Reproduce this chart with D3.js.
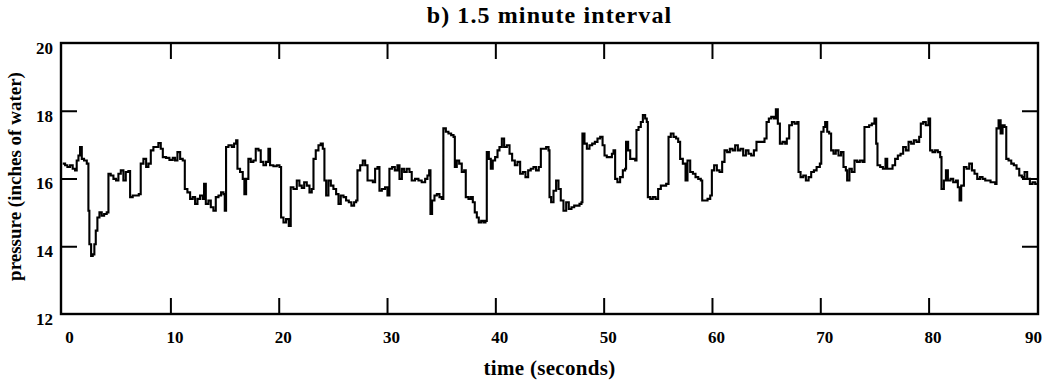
<!DOCTYPE html>
<html>
<head>
<meta charset="utf-8">
<script src="https://cdn.jsdelivr.net/npm/d3@7"></script>
<style>
  html, body { margin: 0; padding: 0; background: #fff; }
  svg { display: block; }
  .tick text { font-family: "Liberation Serif", "Times New Roman", serif; font-weight: bold; font-size: 17px; fill: #000; }
</style>
</head>
<body>
<svg id="chart" width="1048" height="384"></svg>
<script>
const title = "b) 1.5 minute interval";
const xLabel = "time (seconds)";
const yLabel = "pressure (inches of water)";
const xTicks = [0, 10, 20, 30, 40, 50, 60, 70, 80, 90];
const yTicks = [12, 14, 16, 18, 20];

const time = [
 0.06,0.28,0.49,0.74,0.98,1.2,1.35,1.51,1.66,1.82,2.03,2.28,2.43,2.52,2.68,2.83,2.98,3.11,3.26,3.45,3.66,3.88,4.12,
 4.28,4.49,4.74,4.98,5.2,5.42,5.66,5.88,6.12,6.28,6.52,6.83,7.08,7.26,7.51,7.76,7.97,8.19,8.43,8.68,8.89,9.11,9.3,
 9.6,9.91,10.22,10.43,10.65,10.9,11.14,11.33,11.57,11.82,12.06,12.28,12.5,12.74,12.99,13.11,13.27,13.51,13.73,13.97,
 14.19,14.44,14.68,14.9,15.02,15.14,15.36,15.67,15.88,16.07,16.19,16.43,16.68,16.83,16.99,17.2,17.42,17.66,17.88,
 18.13,18.34,18.59,18.83,19.05,19.2,19.51,19.82,20.07,20.22,20.44,20.68,20.93,21.11,21.36,21.67,21.91,
 22.13,22.35,22.59,22.84,23.05,23.21,23.42,23.67,23.88,24.07,24.22,24.38,24.59,24.81,25.05,25.3,25.52,25.73,25.98,
 26.22,26.47,26.71,26.96,27.15,27.27,27.52,27.76,27.98,28.2,28.44,28.69,28.9,29.12,29.3,29.52,29.82,30.04,30.22,
 30.47,30.72,30.96,31.15,31.37,31.58,31.82,32.07,32.28,32.59,32.9,33.2,33.52,33.73,33.89,34.01,34.16,34.38,34.6,
 34.84,35.05,35.2,35.43,35.67,35.92,36.14,36.26,36.44,36.66,36.9,37.12,37.27,37.52,37.73,37.92,38.1,38.29,38.47,
 38.69,38.91,39.09,39.21,39.4,39.58,39.76,39.98,40.2,40.38,40.6,40.81,41.06,41.31,41.55,41.8,42.04,42.29,42.54,
 42.78,43.03,43.27,43.52,43.76,44.01,44.2,44.45,44.69,44.91,
 45.0,45.15,45.37,45.61,45.83,46.04,46.29,46.54,46.78,47.03,47.28,47.52,47.77,47.95,48.04,48.23,48.45,48.69,48.94,
 49.19,49.43,49.68,49.9,50.08,50.29,50.54,50.76,50.91,51.06,51.27,51.52,51.77,51.98,52.07,52.26,52.45,52.69,52.91,
 53.03,53.22,53.43,53.62,53.83,53.98,54.08,54.3,54.54,54.79,55.03,55.28,55.53,55.77,55.99,56.2,56.45,56.69,56.88,
 57.06,57.31,57.56,57.74,57.99,58.24,58.48,58.73,58.97,59.1,59.34,59.59,59.84,59.99,60.2,60.45,60.7,60.94,61.16,
 61.4,61.65,61.9,62.14,62.39,62.63,62.88,63.13,63.37,63.62,63.87,64.11,64.36,64.61,64.85,65.04,65.25,65.47,65.71,
 65.9,66.08,66.27,66.51,66.76,
 66.91,67.13,67.38,67.62,67.87,67.99,68.18,68.43,68.67,68.92,69.16,69.41,69.66,69.96,70.09,70.3,70.45,70.64,70.82,
 71.0,71.22,71.43,71.68,71.92,72.14,72.36,72.48,72.69,72.91,73.16,73.4,73.65,73.9,74.08,74.3,74.51,74.76,75.0,
 75.16,75.28,75.53,75.78,76.02,76.18,76.42,76.67,76.91,77.16,77.41,77.65,77.9,78.15,78.39,78.64,78.88,79.13,79.28,
 79.5,79.74,79.99,80.14,80.36,80.6,80.85,81.07,81.19,81.41,81.6,81.78,82.03,82.27,82.52,82.7,82.86,83.01,83.26,
 83.5,83.75,84.0,84.24,84.49,84.74,84.98,85.23,85.48,85.72,85.97,86.15,86.27,86.46,86.65,86.83,87.02,87.17,87.38,
 87.63,87.87,88.12,88.37,88.61,88.86,89.1,89.35,89.6,89.84,90.0
];

const pressure = [
 16.44,16.39,16.34,16.39,16.29,16.24,16.53,16.68,16.93,16.58,16.53,16.44,15.05,14.06,13.71,13.76,14.06,14.46,14.85,15.0,14.9,14.95,15.0,
 16.14,16.09,15.99,15.94,16.14,16.24,15.94,16.19,16.22,15.45,15.5,15.5,15.54,16.44,16.58,16.34,16.44,16.83,16.93,16.93,17.05,16.88,16.63,
 16.61,16.55,16.61,16.53,16.78,16.58,16.53,15.69,15.59,15.4,15.45,15.25,15.4,15.5,15.4,15.84,15.25,15.35,15.15,15.05,
 15.45,15.5,15.59,15.54,15.05,16.93,16.98,16.93,17.03,17.13,16.29,16.19,15.99,15.54,15.99,16.58,16.49,16.53,16.88,
 16.83,16.49,16.39,16.49,16.88,16.39,16.36,16.39,16.34,14.85,14.7,14.8,14.6,15.74,15.69,15.94,15.79,
 15.72,15.89,15.79,15.59,15.69,16.58,16.83,16.98,17.03,16.88,15.94,15.5,15.94,15.79,15.69,15.54,15.25,15.5,15.45,
 15.35,15.3,15.2,15.3,15.35,16.24,16.39,16.53,16.39,15.94,15.94,15.89,16.29,16.34,15.64,15.69,15.74,15.5,16.29,
 16.34,16.24,16.39,15.99,16.29,16.19,16.29,16.19,15.94,15.99,15.94,15.89,15.99,16.09,16.24,14.95,15.35,15.5,15.54,
 15.45,15.4,17.48,17.38,17.33,17.28,17.23,16.34,16.53,16.44,16.19,16.24,15.45,15.4,15.45,15.3,15.0,14.85,14.7,
 14.75,14.7,14.75,16.78,16.58,16.29,16.53,16.63,16.83,16.93,17.18,16.93,16.98,16.73,16.53,16.39,16.49,16.14,16.19,
 16.04,16.24,16.29,16.34,16.24,16.34,16.88,16.88,16.93,16.83,
 15.45,15.3,15.64,15.94,15.69,15.35,15.05,15.3,15.1,15.15,15.2,15.2,15.25,15.3,17.33,17.03,16.88,16.98,17.03,
 17.08,17.18,17.23,16.98,16.68,16.63,16.63,16.73,16.83,15.99,15.89,16.04,16.24,16.29,17.08,16.83,16.58,16.58,16.53,
 17.43,17.52,17.67,17.87,17.77,17.67,15.45,15.4,15.45,15.4,15.69,15.79,15.79,15.84,17.23,17.33,17.23,17.18,17.08,
 16.58,16.44,15.94,16.53,16.19,16.14,16.04,15.99,15.94,15.35,15.35,15.4,15.5,16.24,16.39,16.24,16.19,16.49,16.83,
 16.78,16.88,16.83,16.98,16.83,16.88,16.68,16.83,16.73,16.68,16.83,17.08,17.08,17.08,17.18,17.67,17.77,17.82,17.77,
 18.04,17.62,17.03,17.08,17.03,
 17.18,17.57,17.67,17.62,17.67,16.19,16.04,16.09,15.94,16.04,16.19,16.24,16.34,16.44,17.38,17.52,17.67,17.38,17.33,
 16.83,16.73,16.83,16.68,16.78,16.34,16.24,15.94,16.29,16.19,16.53,16.49,16.53,16.49,17.52,17.52,17.57,17.62,17.77,
 17.03,16.39,16.34,16.29,16.58,16.29,16.29,16.39,16.58,16.68,16.73,16.93,16.83,17.08,17.03,17.13,17.08,17.23,17.62,
 17.67,17.57,17.77,16.83,16.78,16.83,16.78,16.63,15.69,15.94,16.24,15.94,15.99,15.89,15.94,15.74,15.35,15.79,16.34,
 16.29,16.44,16.24,16.14,15.99,16.04,15.99,15.94,15.94,15.89,15.89,15.84,17.48,17.72,17.33,17.57,17.52,16.58,16.53,
 16.44,16.39,16.29,16.09,16.04,16.19,15.99,15.84,15.89,15.84,15.84
];

const svg = d3.select("#chart");
const font = '"Liberation Serif", "Times New Roman", serif';

const x = d3.scaleLinear().domain([-0.1, 90.1]).range([61, 1038]);
const y = d3.scaleLinear().domain([12, 20]).range([314, 43]);

const data = time.map((t, i) => ({ t, v: pressure[i] }));

// data line
const line = d3.line().x(d => x(d.t)).y(d => y(d.v)).curve(d3.curveStepAfter);
svg.append("path")
  .datum(data)
  .attr("fill", "none")
  .attr("stroke", "#000")
  .attr("stroke-width", 2.1)
  .attr("stroke-linejoin", "miter")
  .attr("d", line);

const innerX = xTicks.filter(v => v > x.domain()[0] + 1 && v < x.domain()[1] - 1);
const innerY = yTicks.filter(v => v > y.domain()[0] && v < y.domain()[1]);

// bottom axis with labels
const gB = svg.append("g").attr("transform", `translate(0,${y(12)})`)
  .call(d3.axisBottom(x).tickValues(xTicks).tickSize(-16).tickSizeOuter(0).tickPadding(17));
gB.select(".domain").remove();
gB.selectAll(".tick line").attr("stroke", "#000").attr("stroke-width", 2)
  .attr("display", d => innerX.includes(d) ? null : "none");
gB.selectAll(".tick text").attr("dx", d => d === 0 ? 7 : (d === 90 ? -4 : 4));

// top ticks
const gT = svg.append("g").attr("transform", `translate(0,${y(20)})`)
  .call(d3.axisTop(x).tickValues(innerX).tickSize(-16).tickSizeOuter(0).tickFormat(""));
gT.select(".domain").remove();
gT.selectAll(".tick line").attr("stroke", "#000").attr("stroke-width", 2);

// left axis with labels
const gL = svg.append("g").attr("transform", `translate(${x.range()[0]},0)`)
  .call(d3.axisLeft(y).tickValues(yTicks).tickSize(-16).tickSizeOuter(0).tickPadding(8));
gL.select(".domain").remove();
gL.selectAll(".tick line").attr("stroke", "#000").attr("stroke-width", 2)
  .attr("display", d => innerY.includes(d) ? null : "none");
gL.selectAll(".tick text").attr("transform", "translate(0,5)");

// right ticks
const gR = svg.append("g").attr("transform", `translate(${x.range()[1]},0)`)
  .call(d3.axisRight(y).tickValues(innerY).tickSize(-16).tickSizeOuter(0).tickFormat(""));
gR.select(".domain").remove();
gR.selectAll(".tick line").attr("stroke", "#000").attr("stroke-width", 2);

// frame
svg.append("rect")
  .attr("x", x.range()[0]).attr("y", y.range()[1])
  .attr("width", x.range()[1] - x.range()[0])
  .attr("height", y.range()[0] - y.range()[1])
  .attr("fill", "none").attr("stroke", "#000").attr("stroke-width", 2.4);

// title
svg.append("text")
  .attr("x", (x.range()[0] + x.range()[1]) / 2)
  .attr("y", 23)
  .attr("text-anchor", "middle")
  .attr("font-family", font)
  .attr("font-weight", "bold")
  .attr("font-size", 24)
  .attr("letter-spacing", 1.1)
  .attr("fill", "#000")
  .text(title);

// x label
svg.append("text")
  .attr("x", (x.range()[0] + x.range()[1]) / 2)
  .attr("y", 375)
  .attr("text-anchor", "middle")
  .attr("font-family", font)
  .attr("font-weight", "bold")
  .attr("font-size", 21)
  .attr("letter-spacing", 0.3)
  .attr("fill", "#000")
  .text(xLabel);

// y label
svg.append("text")
  .attr("transform", `translate(21,${(y.range()[0] + y.range()[1]) / 2 - 2}) rotate(-90)`)
  .attr("text-anchor", "middle")
  .attr("font-family", font)
  .attr("font-weight", "bold")
  .attr("font-size", 19)
  .attr("fill", "#000")
  .text(yLabel);
</script>
</body>
</html>
